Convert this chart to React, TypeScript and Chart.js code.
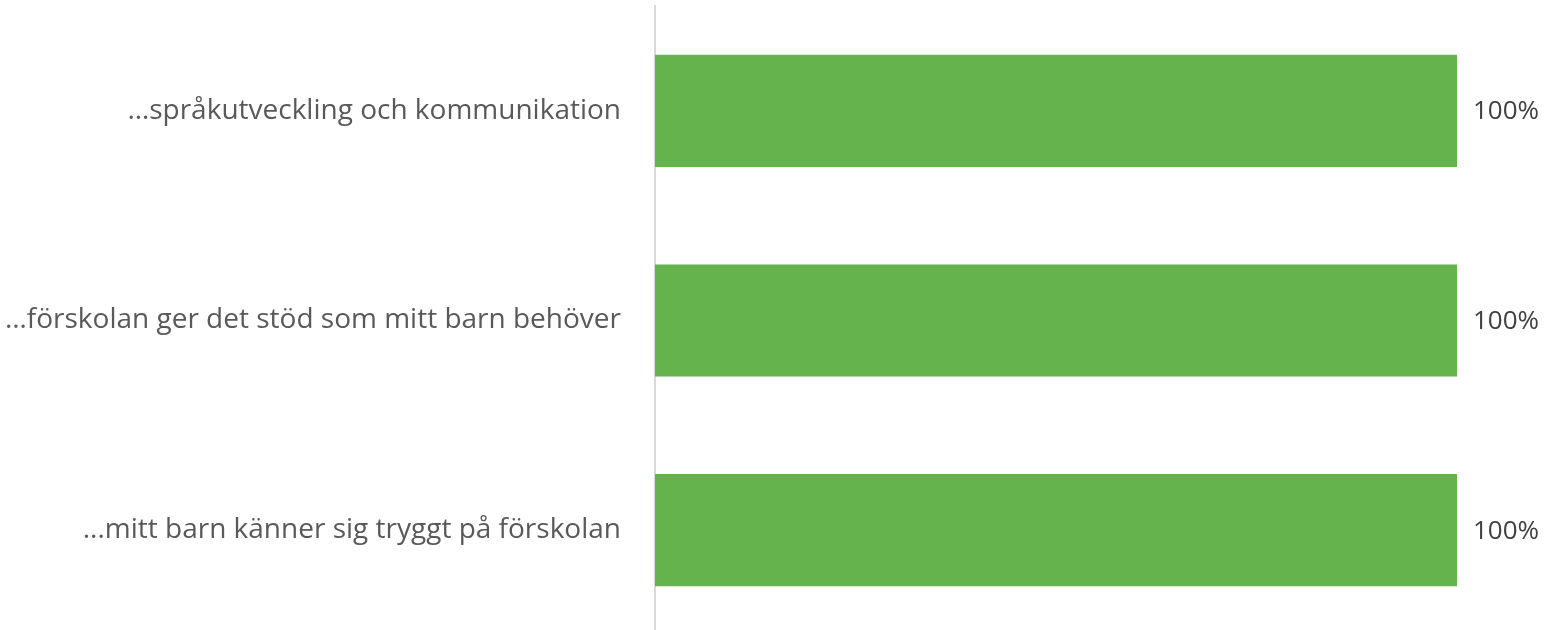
import React, { useEffect, useRef } from "react";
import { Chart, registerables } from "chart.js";

Chart.register(...registerables);

const categories = [
  "…språkutveckling och kommunikation",
  "…förskolan ger det stöd som mitt barn behöver",
  "...mitt barn känner sig tryggt på förskolan",
];
const values = [1, 1, 1];
const valueLabels = ["100%", "100%", "100%"];

const valueLabelPlugin = {
  id: "valueLabels",
  afterDatasetsDraw(chart: any) {
    const ctx = chart.ctx;
    const meta = chart.getDatasetMeta(0);
    ctx.save();
    ctx.font = "26px 'Open Sans'";
    ctx.fillStyle = "#404040";
    ctx.textAlign = "left";
    ctx.textBaseline = "middle";
    meta.data.forEach((bar: any, i: number) => {
      ctx.fillText(valueLabels[i], bar.x + 16, bar.y + 1);
    });
    ctx.restore();
  },
};

export default function App() {
  const ref = useRef<HTMLCanvasElement | null>(null);
  useEffect(() => {
    if (!ref.current) return;
    const chart = new Chart(ref.current, {
      type: "bar",
      data: {
        labels: categories,
        datasets: [
          {
            data: values,
            backgroundColor: "#65B34C",
            barPercentage: 0.535,
            categoryPercentage: 1,
          },
        ],
      },
      options: {
        indexAxis: "y",
        animation: false,
        responsive: false,
        devicePixelRatio: 1,
        layout: { padding: { top: 6, right: 87, bottom: 0, left: 0 } },
        plugins: { legend: { display: false }, tooltip: { enabled: false } },
        scales: {
          x: { display: false, min: 0, max: 1 },
          y: {
            grid: { display: false, drawTicks: false },
            border: { display: true, color: "#d9d9d9", width: 2 },
            ticks: {
              color: "#595959",
              font: { family: "'Open Sans'", size: 28 },
              padding: 34,
            },
            afterFit(scale: any) {
              scale.width = 655;
              scale.paddingTop = 0;
              scale.paddingBottom = 0;
            },
          },
        },
      },
      plugins: [valueLabelPlugin],
    });
    return () => chart.destroy();
  }, []);
  return (
    <div style={{ position: "fixed", left: 0, top: 0, width: 1544, height: 635, background: "#fff", overflow: "hidden" }}>
      <canvas ref={ref} width={1544} height={635} style={{ display: "block", width: 1544, height: 635 }} />
    </div>
  );
}
